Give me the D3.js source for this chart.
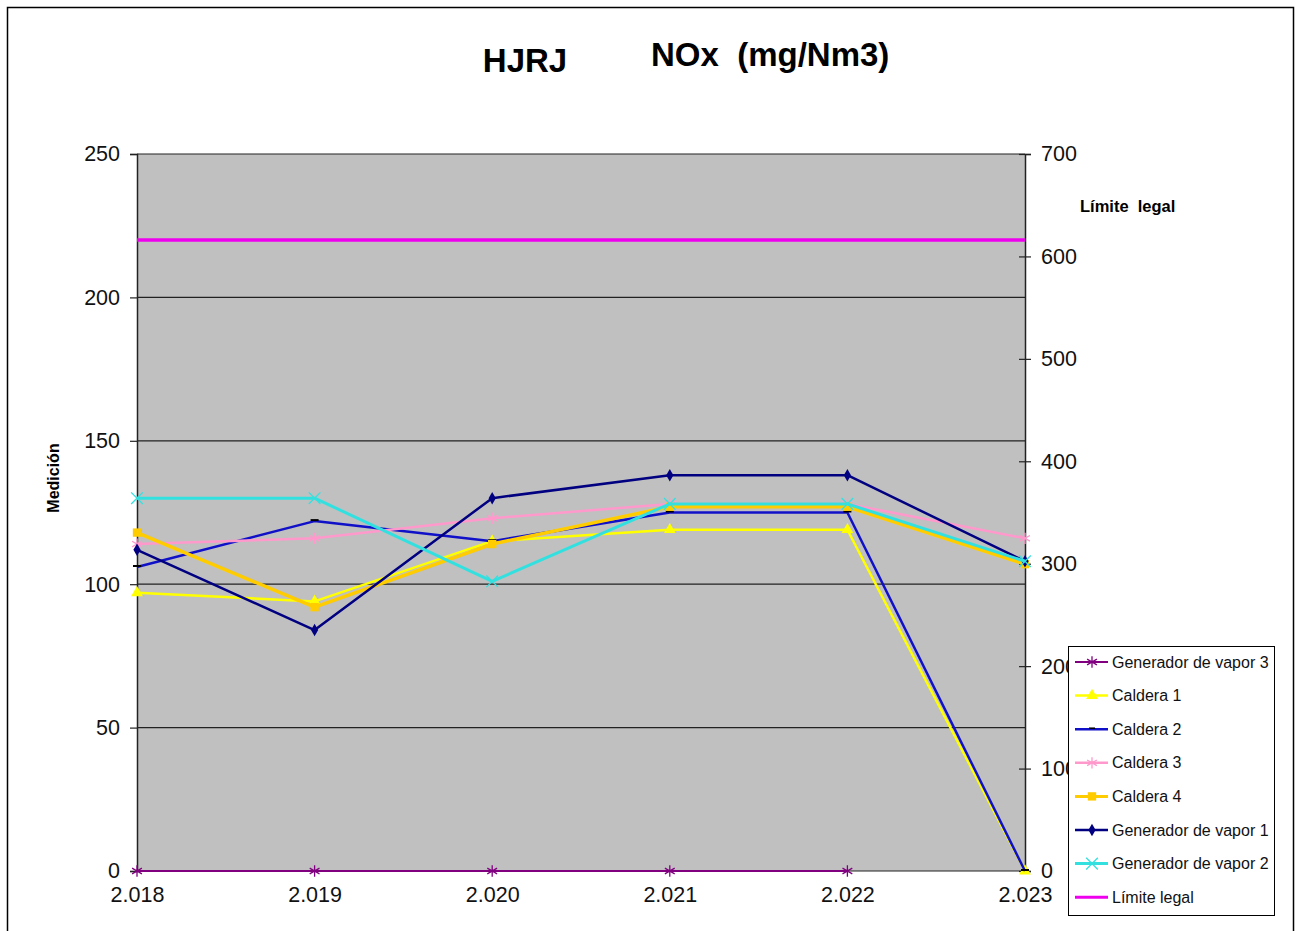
<!DOCTYPE html>
<html>
<head>
<meta charset="utf-8">
<script src="https://cdn.jsdelivr.net/npm/d3@7"></script>
<style>
  body { margin: 0; background: #fff; }
  svg { font-family: "Liberation Sans", Arial, sans-serif; }
</style>
</head>
<body>
<svg id="chart" width="1300" height="931"></svg>
<script>
// data
const years = ['2.018', '2.019', '2.020', '2.021', '2.022', '2.023'];
const leftTicks = [0, 50, 100, 150, 200, 250];
const rightTicks = [0, 100, 200, 300, 400, 500, 600, 700];

const gv3 = [0, 0, 0, 0, 0, null];
const caldera1 = [97, 94, 115, 119, 119, 0];
const caldera2 = [106, 122, 115, 125, 125, 0];
const caldera3 = [114, 116, 123, 128, 128, 116];
const caldera4 = [118, 92, 114, 127, 127, 107];
const gv1 = [112, 84, 130, 138, 138, 108];
const gv2 = [130, 130, 101, 128, 128, 108];
const limite = [220, 220, 220, 220, 220, 220];

const seriesNames = ['Generador de vapor 3', 'Caldera 1', 'Caldera 2', 'Caldera 3',
    'Caldera 4', 'Generador de vapor 1', 'Generador de vapor 2', 'Límite legal'];

const series = [
    { name: seriesNames[0], values: gv3, color: '#800080', width: 2, symbol: d3.symbolAsterisk, size: 90, stroke: true },
    { name: seriesNames[1], values: caldera1, color: '#ffff00', width: 2.5, symbol: d3.symbolTriangle, size: 60 },
    { name: seriesNames[2], values: caldera2, color: '#1010c8', width: 2.5, symbol: 'dash', size: 0 },
    { name: seriesNames[3], values: caldera3, color: '#ff99cc', width: 2.5, symbol: d3.symbolAsterisk, size: 90, stroke: true },
    { name: seriesNames[4], values: caldera4, color: '#ffcc00', width: 3.5, symbol: d3.symbolSquare, size: 70 },
    { name: seriesNames[5], values: gv1, color: '#000080', width: 2.5, symbol: d3.symbolDiamond, size: 45 },
    { name: seriesNames[6], values: gv2, color: '#33e0e0', width: 3, symbol: d3.symbolX, size: 90, stroke: true },
    { name: seriesNames[7], values: limite, color: '#ee00ee', width: 3.5, symbol: null }
];

const margin = { top: 154, right: 275, bottom: 60, left: 137 };
const innerW = 1025 - margin.left;
const innerH = 871 - margin.top;

const svg = d3.select('#chart');

// outer frame
svg.append('rect')
    .attr('x', 7.5).attr('y', 7.5)
    .attr('width', 1286).attr('height', 940)
    .attr('fill', 'none').attr('stroke', '#000').attr('stroke-width', 1.5);

const chart = svg.append('g')
    .attr('transform', `translate(${margin.left}, ${margin.top})`);

const xscale = d3.scalePoint().domain(years).range([0, innerW]);
const yscale = d3.scaleLinear().domain([0, 250]).range([innerH, 0]);
const y2scale = d3.scaleLinear().domain([0, 700]).range([innerH, 0]);

// plot background
chart.append('rect')
    .attr('width', innerW).attr('height', innerH)
    .attr('fill', '#c0c0c0');

// grid lines
chart.append('g')
    .selectAll('line')
    .data(leftTicks)
    .join('line')
    .attr('x1', 0).attr('x2', innerW)
    .attr('y1', d => yscale(d)).attr('y2', d => yscale(d))
    .attr('stroke', '#222').attr('stroke-width', 1.2);

// axes
const yaxis = d3.axisLeft(yscale).tickValues(leftTicks).tickSize(7).tickPadding(10);
const y2axis = d3.axisRight(y2scale).tickValues(rightTicks).tickSizeInner(6).tickSizeOuter(6).tickPadding(10);
const xaxis = d3.axisBottom(xscale).tickSize(0).tickPadding(16);

const yg = chart.append('g').call(yaxis);
const y2g = chart.append('g').attr('transform', `translate(${innerW}, 0)`).call(y2axis);
const xg = chart.append('g').attr('transform', `translate(0, ${innerH})`).call(xaxis);

[yg, y2g, xg].forEach(g => {
    g.selectAll('text').style('font-size', '21.5px').attr('fill', '#111')
        .style('font-family', '"Liberation Sans", Arial, sans-serif');
    g.selectAll('line').attr('stroke', '#222').attr('stroke-width', 1.2);
    g.select('.domain').attr('stroke', '#222').attr('stroke-width', 1.5);
});
xg.select('.domain').remove();
xg.selectAll('text').attr('dy', '0.71em');
// right ticks cross the axis
y2g.selectAll('.tick line').attr('x1', -6);

// series
const line = d3.line()
    .defined(d => d != null)
    .x((d, i) => xscale(years[i]))
    .y(d => yscale(d));

series.forEach(s => {
    const g = chart.append('g');
    g.append('path')
        .attr('d', line(s.values))
        .attr('fill', 'none')
        .attr('stroke', s.color)
        .attr('stroke-width', s.width)
        .attr('stroke-linejoin', 'round');
    if (!s.symbol) return;
    const pts = s.values.map((v, i) => ({ v, i })).filter(d => d.v != null);
    if (s.symbol === 'dash') {
        g.selectAll('line.m').data(pts).join('line')
            .attr('x1', d => xscale(years[d.i]) - 4).attr('x2', d => xscale(years[d.i]) + 4)
            .attr('y1', d => yscale(d.v) - 1).attr('y2', d => yscale(d.v) - 1)
            .attr('stroke', '#000').attr('stroke-width', 2);
        return;
    }
    const sym = d3.symbol().type(s.symbol).size(s.size);
    g.selectAll('path.m').data(pts).join('path')
        .attr('class', 'm')
        .attr('transform', d => `translate(${xscale(years[d.i])}, ${yscale(d.v)})`)
        .attr('d', sym)
        .attr('fill', s.stroke ? 'none' : s.color)
        .attr('stroke', s.stroke ? s.color : 'none')
        .attr('stroke-width', s.stroke ? 1.3 : 0);
});

// titles
svg.append('text')
    .attr('x', 525).attr('y', 72)
    .attr('text-anchor', 'middle')
    .style('font-size', '33px').style('font-weight', 'bold')
    .text('HJRJ');
svg.append('text')
    .attr('x', 651).attr('y', 66)
    .style('font-size', '33px').style('font-weight', 'bold')
    .attr('xml:space', 'preserve')
    .text('NOx  (mg/Nm3)');

svg.append('text')
    .attr('transform', 'rotate(-90)')
    .attr('x', -478).attr('y', 59)
    .attr('text-anchor', 'middle')
    .style('font-size', '16px').style('font-weight', 'bold')
    .text('Medición');

svg.append('text')
    .attr('x', 1080).attr('y', 212)
    .style('font-size', '16.5px').style('font-weight', 'bold')
    .attr('xml:space', 'preserve')
    .text('Límite  legal');

// legend
const legend = svg.append('g').attr('transform', 'translate(1068, 646)');
legend.append('rect')
    .attr('x', 0.5).attr('y', 0.5)
    .attr('width', 206).attr('height', 269)
    .attr('fill', '#fff').attr('stroke', '#000').attr('stroke-width', 1);

const row = legend.selectAll('g.row')
    .data(series)
    .join('g')
    .attr('class', 'row')
    .attr('transform', (d, i) => `translate(0, ${16 + i * 33.6})`);

row.append('line')
    .attr('x1', 7).attr('x2', 40)
    .attr('stroke', d => d.color)
    .attr('stroke-width', d => Math.min(d.width, 3));

row.each(function (s) {
    const r = d3.select(this);
    if (!s.symbol) return;
    if (s.symbol === 'dash') {
        r.append('line').attr('x1', 21).attr('x2', 27).attr('y1', -1).attr('y2', -1)
            .attr('stroke', '#000').attr('stroke-width', 1.5);
        return;
    }
    r.append('path')
        .attr('transform', 'translate(24, 0)')
        .attr('d', d3.symbol().type(s.symbol).size(s.size)())
        .attr('fill', s.stroke ? 'none' : s.color)
        .attr('stroke', s.stroke ? s.color : 'none')
        .attr('stroke-width', s.stroke ? 1.3 : 0);
});

row.append('text')
    .attr('x', 44).attr('dy', '0.35em')
    .style('font-size', '16px')
    .attr('fill', '#111')
    .text(d => d.name);
</script>
</body>
</html>
